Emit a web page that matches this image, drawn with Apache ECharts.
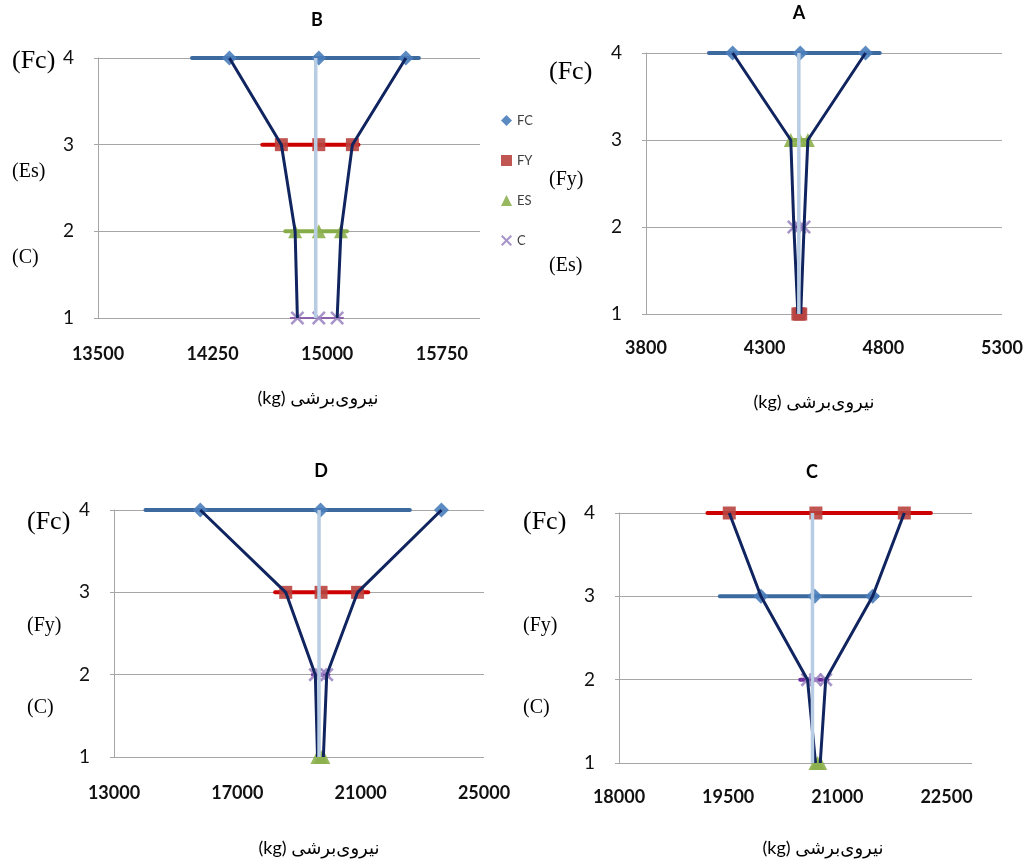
<!DOCTYPE html>
<html>
<head>
<meta charset="utf-8">
<script src="https://cdn.jsdelivr.net/npm/echarts@6/dist/echarts.min.js"></script>
<style>
html,body{margin:0;padding:0;background:#fff}
#container{width:1023px;height:865px}
</style>
</head>
<body>
<div id="container"></div>
<script>
// levels on the vertical axis
var yTicks = [1, 2, 3, 4];
var names = ['FC', 'FY', 'ES', 'C'];
var axisName = '(kg) نیروی\u200cبرشی';

// panel B : order from level 4 down to level 1
var bOrder = ['FC', 'FY', 'ES', 'C'];
var bNotes = ['(Fc)', '(Es)', '(C)'];
var bFC = [14360, 14945, 15515], bFCBar = [14115, 15600];
var bFY = [14700, 14945, 15165], bFYBar = [14575, 15205];
var bES = [14790, 14945, 15090], bESBar = [14725, 15130];
var bC = [14805, 14945, 15065], bCBar = [14760, 15105];
var bCenter = 14925;

// panel A
var aOrder = ['FC', 'ES', 'C', 'FY'];
var aNotes = ['(Fc)', '(Fy)', '(Es)'];
var aFC = [4165, 4450, 4725], aFCBar = [4065, 4785];
var aES = [4410, 4448, 4482], aESBar = [4410, 4482];
var aC = [4423, 4448, 4466], aCBar = [4423, 4466];
var aFY = [4440, 4446, 4452], aFYBar = null;
var aCenter = 4444;

// panel D
var dOrder = ['FC', 'FY', 'C', 'ES'];
var dNotes = ['(Fc)', '(Fy)', '(C)'];
var dFC = [15800, 19700, 23620], dFCBar = [14020, 22595];
var dFY = [18570, 19715, 20900], dFYBar = [18225, 21245];
var dC = [19530, 19715, 19900], dCBar = [19450, 19950];
var dES = [19600, 19715, 19790], dESBar = null;
var dCenter = 19650;

// panel C
var cOrder = ['FY', 'FC', 'C', 'ES'];
var cNotes = ['(Fc)', '(Fy)', '(C)'];
var cFY = [19515, 20705, 21920], cFYBar = [19215, 22285];
var cFC = [19950, 20690, 21485], cFCBar = [19385, 21550];
var cC = [20590, 20700, 20840], cCBar = [20490, 20865];
var cES = [20700, 20730, 20765], cESBar = null;
var cCenter = 20658;

var markColor = {FC: '#4a7ebb', FY: '#b8443f', ES: '#8db04f', C: '#9d88c2'};
var barColor = {FC: '#3d6a9e', FY: '#cc0000', ES: '#86ad4a', C: '#7030a0'};
var symbols = {
	FC: 'diamond', FY: 'rect', ES: 'triangle',
	C: 'path://M0,1.3L1.3,0L5,3.7L8.7,0L10,1.3L6.3,5L10,8.7L8.7,10L5,6.3L1.3,10L0,8.7L3.7,5Z'
};
var symSize = {FC: 15, FY: 13, ES: 14, C: 14};

var panels = [
	{title: 'B', order: bOrder, notes: bNotes,
		vals: {FC: bFC, FY: bFY, ES: bES, C: bC}, bars: {FC: bFCBar, FY: bFYBar, ES: bESBar, C: bCBar}, center: bCenter,
		grid: {left: 98, top: 58, width: 382, height: 260}, min: 13500, max: 16000, step: 750, showMax: false, lblGap: 27, cWidth: 1.5,
		titleXY: [317, 20], nameXY: [318, 398], notesXY: [[12, 61, 26], [12, 172, 20], [12, 258, 20]]},
	{title: 'A', order: aOrder, notes: aNotes,
		vals: {FC: aFC, FY: aFY, ES: aES, C: aC}, bars: {FC: aFCBar, FY: aFYBar, ES: aESBar, C: aCBar}, center: aCenter,
		grid: {left: 646, top: 53, width: 356, height: 261}, min: 3800, max: 5300, step: 500, showMax: true, lblGap: 25, cWidth: 4,
		titleXY: [799, 13], nameXY: [814, 402], notesXY: [[549, 72, 26], [549, 180, 20], [549, 266, 20]]},
	{title: 'D', order: dOrder, notes: dNotes,
		vals: {FC: dFC, FY: dFY, ES: dES, C: dC}, bars: {FC: dFCBar, FY: dFYBar, ES: dESBar, C: dCBar}, center: dCenter,
		grid: {left: 114, top: 510, width: 370, height: 247}, min: 13000, max: 25000, step: 4000, showMax: true, lblGap: 27, cWidth: 4,
		titleXY: [321, 471], nameXY: [319, 848], notesXY: [[27, 522, 26], [27, 626, 20], [27, 708, 20]]},
	{title: 'C', order: cOrder, notes: cNotes,
		vals: {FC: cFC, FY: cFY, ES: cES, C: cC}, bars: {FC: cFCBar, FY: cFYBar, ES: cESBar, C: cCBar}, center: cCenter,
		grid: {left: 619, top: 513, width: 353, height: 250}, min: 18000, max: 22850, step: 1500, showMax: false, lblGap: 25, cWidth: 4,
		titleXY: [812, 472], nameXY: [823, 848], notesXY: [[523, 522, 26], [523, 626, 20], [523, 708, 20]]}
];

var grids = [], xAxes = [], yAxes = [], series = [], graphics = [];

function txt(x, y, text, font, align) {
	graphics.push({
		type: 'text', x: x, y: y, silent: true,
		style: {text: text, font: font, fill: '#000',
			textAlign: align, align: align, textVerticalAlign: 'middle', verticalAlign: 'middle'}
	});
}

panels.forEach(function(p, i){
	grids.push({left: p.grid.left, top: p.grid.top, width: p.grid.width, height: p.grid.height, outerBoundsMode: 'none'});
	xAxes.push({
		gridIndex: i, type: 'value', min: p.min, max: p.max, interval: p.step,
		axisLine: {show: false}, axisTick: {show: false}, splitLine: {show: false},
		axisLabel: {margin: p.lblGap, showMaxLabel: p.showMax, showMinLabel: true,
			formatter: function(v){ return String(v); },
			fontFamily: 'Lato', fontSize: 18, fontWeight: 'bold', color: '#111'}
	});
	yAxes.push({
		gridIndex: i, type: 'value', min: yTicks[0], max: yTicks[yTicks.length - 1], interval: 1,
		axisLine: {show: true, lineStyle: {color: '#a6a6a6', width: 1}},
		axisTick: {show: true, length: 4, lineStyle: {color: '#a6a6a6'}},
		splitLine: {show: true, lineStyle: {color: '#a6a6a6', width: 1}},
		axisLabel: {margin: 24, fontFamily: 'Lato', fontSize: 19, color: '#111'}
	});

	var left = [], right = [];
	p.order.forEach(function(n, k){
		var lvl = yTicks[yTicks.length - 1 - k];
		var v = p.vals[n], bar = p.bars[n];
		if (bar) {
			series.push({
				type: 'line', xAxisIndex: i, yAxisIndex: i, silent: true, symbol: 'none', z: 2,
				data: [[bar[0], lvl], [bar[1], lvl]],
				lineStyle: {color: barColor[n], width: n === 'C' ? p.cWidth : 4, cap: 'round'}
			});
		}
		series.push({
			type: 'scatter', name: n, xAxisIndex: i, yAxisIndex: i, z: 3,
			symbol: symbols[n], symbolSize: symSize[n],
			itemStyle: {color: markColor[n], opacity: 0.9},
			data: v.map(function(x){ return [x, lvl]; })
		});
		left.push([v[0], lvl]);
		right.push([v[v.length - 1], lvl]);
	});
	[left, right].forEach(function(d){
		series.push({
			type: 'line', xAxisIndex: i, yAxisIndex: i, silent: true, symbol: 'none', z: 4,
			data: d, lineStyle: {color: '#10245f', width: 3}
		});
	});
	series.push({
		type: 'line', xAxisIndex: i, yAxisIndex: i, silent: true, symbol: 'none', z: 5,
		data: [[p.center, yTicks[0]], [p.center, yTicks[yTicks.length - 1]]],
		lineStyle: {color: '#b8cce4', width: 3.5}
	});

	txt(p.titleXY[0], p.titleXY[1], p.title, 'bold 18px Lato', 'center');
	txt(p.nameXY[0], p.nameXY[1], axisName, '18px Lato, "DejaVu Sans"', 'center');
	p.notes.forEach(function(t, k){
		var q = p.notesXY[k];
		txt(q[0], q[1], t, q[2] + 'px "Liberation Serif"', 'left');
	});
});

var dom = document.getElementById('container');
var myChart = echarts.init(dom);
var option = {
	animation: false,
	backgroundColor: '#fff',
	legend: {
		data: names, orient: 'vertical', left: 496, top: 109,
		itemWidth: 11, itemHeight: 11, itemGap: 27, selectedMode: false,
		textStyle: {fontFamily: 'Lato', fontSize: 13, color: '#404040'}
	},
	grid: grids,
	xAxis: xAxes,
	yAxis: yAxes,
	series: series,
	graphic: graphics
};
myChart.setOption(option, true);
</script>
</body>
</html>
